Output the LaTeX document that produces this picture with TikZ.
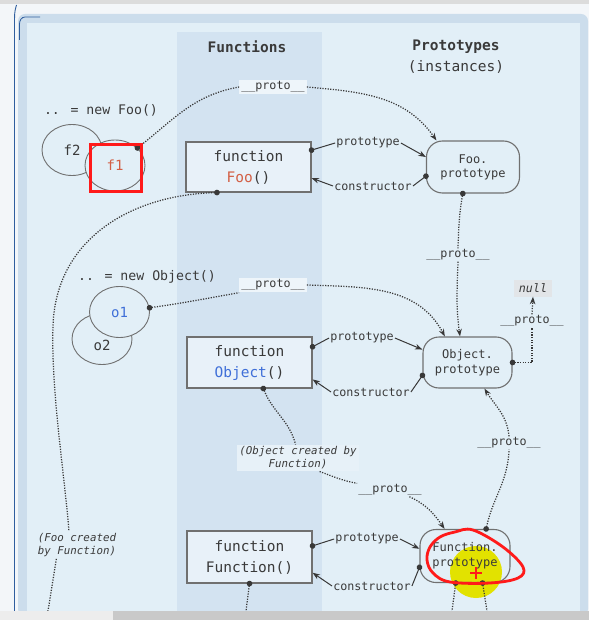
\documentclass[tikz,border=0pt]{standalone}
\usepackage{fontspec}
\newfontfamily\mono{DejaVu Sans Mono}
\usetikzlibrary{arrows.meta,shapes.geometric,calc}
\definecolor{outerbg}{HTML}{F3F6F9}
\definecolor{topbar}{HTML}{DCDCDC}
\definecolor{panelband}{HTML}{CCDDEC}
\definecolor{panel}{HTML}{E2EFF7}
\definecolor{column}{HTML}{D3E3F1}
\definecolor{boxfill}{HTML}{E8F1F9}
\definecolor{boxc}{HTML}{707070}
\definecolor{linec}{HTML}{383838}
\definecolor{txt}{HTML}{3A3A3A}
\definecolor{redt}{HTML}{D35F45}
\definecolor{bluet}{HTML}{3F6FD8}
\definecolor{lblbg}{HTML}{EEF5FA}
\definecolor{notebg}{HTML}{E7F1F8}
\definecolor{nullbg}{HTML}{E2E5E8}
\definecolor{annred}{HTML}{FF1A1A}
\definecolor{hlyellow}{HTML}{E2E200}
\definecolor{winblue}{HTML}{2F5E9E}
\definecolor{barleft}{HTML}{EDEDED}
\definecolor{barright}{HTML}{C9C9C9}
\newcommand\hdrF{\mono\fontsize{14.5}{17}\selectfont}
\newcommand\boxF{\mono\fontsize{14.5}{21}\selectfont}
\newcommand\circF{\mono\fontsize{14}{16}\selectfont}
\newcommand\newlF{\mono\fontsize{13.2}{15}\selectfont}
\newcommand\protF{\mono\fontsize{12}{15}\selectfont}
\newcommand\lblF{\mono\fontsize{11.7}{13}\selectfont}
\newcommand\noteF{\mono\fontsize{10.8}{13}\selectfont}
\tikzset{
  hdr/.style={font=\hdrF\bfseries, text=txt, inner sep=1pt},
  hdrsub/.style={font=\hdrF, text=txt, inner sep=1pt},
  newl/.style={font=\newlF, text=txt, inner sep=1pt},
  objc/.style={ellipse, draw=boxc, line width=0.9pt, fill=panel, minimum width=60pt, minimum height=51pt, inner sep=0pt, font=\circF, text=txt},
  fnbox/.style={rectangle, draw=boxc, line width=1.1pt, fill=boxfill, minimum width=125pt, minimum height=50pt, inner sep=0pt, align=center, font=\boxF, text=txt},
  pbox/.style={rectangle, draw=boxc, line width=1.1pt, fill=panel, rounded corners=16pt, minimum width=93pt, minimum height=52pt, inner sep=0pt, align=center, font=\protF, text=txt},
  elbl/.style={font=\lblF, text=txt, fill=panel, inner sep=1pt},
  notel/.style={font=\noteF\itshape, text=txt, inner sep=2pt},
  nullb/.style={font=\lblF\itshape, text=txt, fill=nullbg, inner sep=0pt, minimum width=38pt, minimum height=17pt},
  sl/.style={draw=linec, line width=1pt},
  dl/.style={draw=linec, line width=1.25pt, dash pattern=on 1.2pt off 1.4pt},
  dotstart/.style={arrows={Circle[length=5.6pt]-}, shorten <=-2.8pt},
  tip/.style={arrows={-Stealth[length=7.5pt,width=5.5pt]}},
}
\begin{document}
\begin{tikzpicture}[x=1pt,y=1pt]
\useasboundingbox (0,0) rectangle (589,-620);
% ---- window / panel background
\fill[outerbg] (0,0) rectangle (589,-620);
\fill[topbar] (0,0) rectangle (589,-4);
\fill[panelband, rounded corners=7pt] (18,-14) rectangle (588,-616);
\fill[panel] (27,-23) rectangle (580,-612);
\fill[column] (177,-32) rectangle (322,-612);
\draw[winblue, line width=0.9pt] (16.5,-5) .. controls (14.5,-12) .. (14.5,-28) -- (14.5,-612);
\draw[winblue, line width=0.8pt] (19.5,-40) -- (19.5,-24) to[out=90,in=180] (25,-17) -- (40,-17);
% ---- headers
\node[hdr] (hfun) at (247,-47) {Functions};
\node[hdr] (hpro) at (456,-47) {Prototypes};
\node[hdrsub] (hins) at (456,-67) {(instances)};
% ---- Foo row
\node[newl] (nfoo) at (101,-110) {.. = new Foo()};
\node[objc] (f2) at (72,-150) {f2};
\node[objc, text=redt] (f1) at (115,-165.5) {f1};
\node[fnbox] (foo) at (248.5,-167) {function\\\textcolor{redt}{Foo}()};
\node[pbox, font=\mono\fontsize{12}{14}\selectfont] (foop) at (473,-167) {Foo.\\prototype};
\node[elbl] (fooPr) at (368,-143) {prototype};
\node[elbl] (fooCo) at (373,-186) {constructor};
\node[elbl, fill=lblbg, inner sep=2pt] (f1Pro) at (273,-87) {\_\_proto\_\_};
\node[elbl] (foopPro) at (458,-255) {\_\_proto\_\_};
% ---- Object row
\node[newl] (nobj) at (147,-277) {.. = new Object()};
\node[objc, text height=22pt, text depth=0pt] (o2) at (102,-339) {o2};
\node[objc, text=bluet] (o1) at (119.5,-312) {o1};
\node[fnbox, minimum height=51pt] (objf) at (249.5,-362.5) {function\\\textcolor{bluet}{Object}()};
\node[pbox, minimum width=89pt, minimum height=51pt] (objp) at (467.5,-362.5) {Object.\\prototype};
\node[elbl] (objPr) at (362,-338) {prototype};
\node[elbl] (objCo) at (371,-392) {constructor};
\node[elbl, fill=lblbg, inner sep=2pt] (o1Pro) at (273,-285) {\_\_proto\_\_};
\node[nullb] (null) at (533,-288) {null};
\node[elbl] (objpPro) at (532,-321) {\_\_proto\_\_};
\node[notel, fill=notebg, align=center] (objNote) at (298,-458) {(Object created by\\Function)};
\node[elbl] (objNotePro) at (390,-490) {\_\_proto\_\_};
\node[elbl] (funpPro) at (509,-443) {\_\_proto\_\_};
\node[notel, align=left] (fooNote) at (77,-545) {(Foo created\\by Function)};
% ---- Function row
\fill[hlyellow] (476,-572) circle (26);
\node[fnbox, minimum height=52pt] (funf) at (249.5,-557) {function\\Function()};
\node[pbox, fill=none, minimum width=90pt, minimum height=53pt] (funp) at (465,-556) {Function.\\prototype};
\node[elbl] (funPr) at (367,-539) {prototype};
\node[elbl] (funCo) at (372,-586) {constructor};
\coordinate (fooBend) at (53,-327);
\coordinate (fooEnd) at (48,-611);
\coordinate (funfEnd) at (246,-611);
\coordinate (funpEndA) at (452,-611);
\coordinate (funpEndB) at (487,-611);
% ---- prototype / constructor links
\draw[sl, dotstart] (foo.15) -- (fooPr.west);
\draw[sl, tip] (fooPr.east) -- (foop.168);
\draw[sl, dotstart] (foop.191) -- (fooCo.east);
\draw[sl, tip] (fooCo.west) -- (foo.-10);
\draw[sl, dotstart] (objf.14) -- (objPr.west);
\draw[sl, tip] (objPr.east) -- (objp.164);
\draw[sl, dotstart] (objp.196) -- (objCo.east);
\draw[sl, tip] (objCo.west) -- (objf.-15);
\draw[sl, dotstart] (funf.10) -- (funPr.west);
\draw[sl, tip] (funPr.east) -- (funp.171);
\draw[sl, dotstart] (funp.194) -- (funCo.east);
\draw[sl, tip] (funCo.west) -- (funf.-14);
% ---- __proto__ links
\draw[dl, dotstart] (f1.38) to[out=38,in=190] (f1Pro.west);
\draw[dl, tip] (f1Pro.east) to[out=-5,in=125] (foop.144);
\draw[dl, dotstart] (foop.-111) to[out=-100,in=88] (foopPro.north);
\draw[dl, tip] (foopPro.south) to[out=-92,in=98] (objp.106);
\draw[dl, dotstart] (o1.8) to[out=8,in=190] (o1Pro.south west);
\draw[dl, tip] (o1Pro.east) to[out=-2,in=118] (objp.131);
\draw[dl, dotstart] (objp.east) -| (objpPro.south);
\draw[dl, tip] (objpPro.north) -- (null.south);
\draw[dl, dotstart] (objf.-62) to[out=-68,in=105] (objNote.100);
\draw[dl] (objNote.-32) to[out=-20,in=170] (objNotePro.north west);
\draw[dl, tip] (objNotePro.-19) to[out=-25,in=125] (funp.127);
\draw[dl, dotstart] (funp.52) to[out=78,in=-92] (funpPro.south);
\draw[dl, tip] (funpPro.north) to[out=95,in=-58] (objp.-57);
\draw[dl, dotstart] (foo.-141) .. controls (130,-195) and (55,-240) .. (fooBend) .. controls (51,-390) and (64,-470) .. (fooNote.120);
\draw[dl] (fooNote.-146) -- (fooEnd);
\draw[dl, dotstart] (funf.south) -- (funfEnd);
\draw[dl, dotstart] (funp.-109) -- (funpEndA);
\draw[dl, dotstart] (funp.-57) -- (funpEndB);
% ---- bottom bar
\fill[barleft] (0,-611) rectangle (113,-620);
\fill[barright] (113,-611) rectangle (589,-620);
% ---- annotations
\draw[annred, line width=2.8pt] (90.5,-144.5) rectangle (141.5,-191.5);
\draw[annred, line width=2.8pt, line join=round] plot[smooth cycle, tension=0.6] coordinates {(473,-530) (503,-547) (523,-567) (518,-578) (490,-583) (450,-582) (433,-573) (427,-560) (430,-547) (440,-537) (455,-532)};
\draw[annred, line width=1.3pt] (470,-573) -- (482,-573) (476,-567) -- (476,-579);
\end{tikzpicture}
\end{document}
